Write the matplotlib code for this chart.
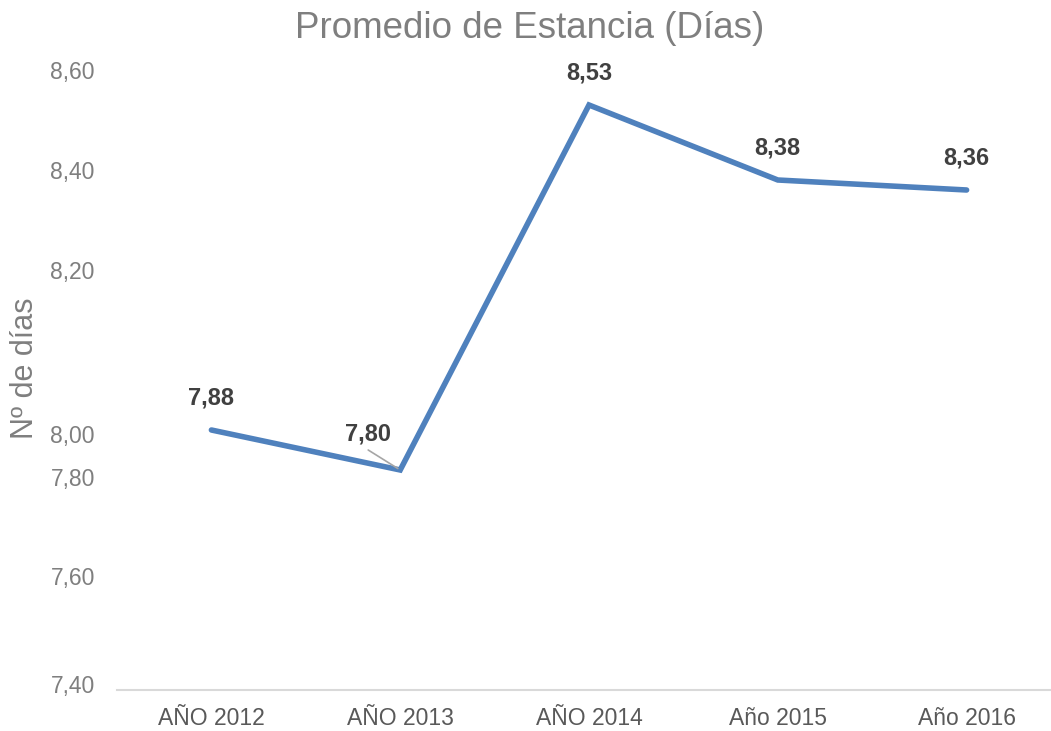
import matplotlib
matplotlib.use("Agg")
import matplotlib.pyplot as plt

plt.rcParams['font.family'] = ['Liberation Sans', 'DejaVu Sans']

categorias = ["AÑO 2012", "AÑO 2013", "AÑO 2014", "Año 2015", "Año 2016"]
dias = [7.88, 7.80, 8.53, 8.38, 8.36]
etiquetas = ["7,88", "7,80", "8,53", "8,38", "8,36"]

# the y labels in the original sit at uneven places
ytick_pos = [7.372, 7.588, 7.786, 7.872, 8.20, 8.40, 8.60]
ytick_lab = ["7,40", "7,60", "7,80", "8,00", "8,20", "8,40", "8,60"]

gris = "#7f7f7f"
azul = "#4f81bd"

fig = plt.figure(figsize=(10.51, 7.31), dpi=100)
ax = fig.add_axes([117/1051, 41/731, (1061-117)/1051, (690-70)/731])

x = list(range(len(dias)))
ax.plot(x, dias, color=azul, lw=4, solid_capstyle="round", solid_joinstyle="miter",
        clip_on=False)

offsets = [(0, 32), (-32, 36), (0, 32), (0, 32), (0, 32)]
for xi, yi, t, (dx, dy) in zip(x, dias, etiquetas, offsets):
    ax.annotate(t, (xi, yi), xytext=(dx, dy), textcoords="offset pixels",
                ha="center", va="center", fontsize=17, fontweight="bold",
                color="#404040")
# leader line for 2013 label
ax.annotate("", (x[1], dias[1]), xytext=(-32, 20), textcoords="offset pixels",
            arrowprops=dict(arrowstyle="-", color="#a6a6a6", lw=1.2,
                            shrinkA=0, shrinkB=2))

ax.set_xlim(-0.5, 4.5)
ax.set_ylim(7.36, 8.60)
ax.set_xticks(x)
ax.set_xticklabels(categorias, fontsize=16.5, color="#595959")
ax.set_yticks(ytick_pos)
ax.set_yticklabels(ytick_lab, fontsize=16.5, color=gris)
ax.tick_params(axis="both", length=0)
ax.tick_params(axis="y", pad=16)
ax.tick_params(axis="x", pad=12)

for s in ["top", "right", "left"]:
    ax.spines[s].set_visible(False)
ax.spines["bottom"].set_color("#d9d9d9")
ax.spines["bottom"].set_linewidth(1.5)

fig.text(25/1051, 1 - 368/731, "Nº de días", rotation=90, ha="center",
         va="center", fontsize=22, color=gris)
fig.text(530/1051, 1 - 29/731, "Promedio de Estancia (Días)", ha="center",
         va="center", fontsize=26.5, color=gris)

fig.savefig("out.png", dpi=100)
